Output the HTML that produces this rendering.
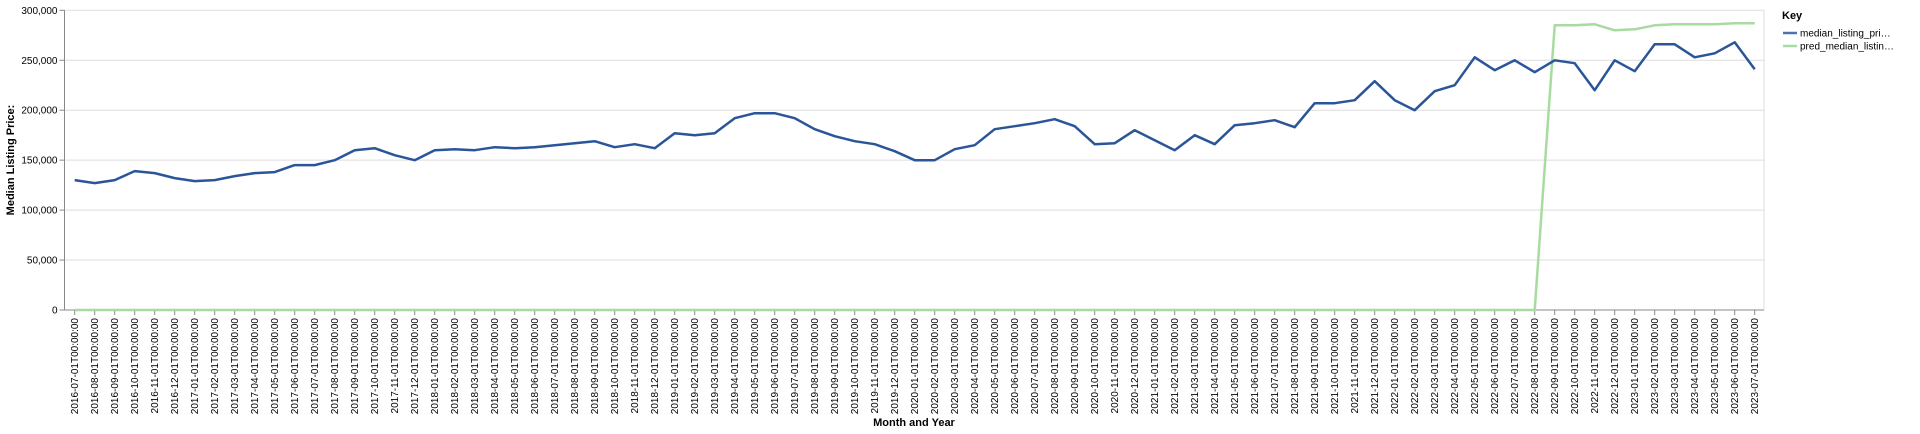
<!DOCTYPE html>
<html><head><meta charset="utf-8"><style>
html,body{margin:0;padding:0;background:#fff;width:1920px;height:434px;overflow:hidden}
svg{display:block;font-family:"Liberation Sans",sans-serif}
</style></head><body>
<svg id="chart" width="1920" height="434" xmlns="http://www.w3.org/2000/svg">
<g id="grid"></g>
<g id="yaxis"></g>
<g id="xaxis"></g>
<g id="series"></g>
<text transform="translate(14,160) rotate(-90)" text-anchor="middle" font-size="11" font-weight="bold" fill="#000">Median Listing Price:</text>
<text x="914" y="426" text-anchor="middle" font-size="11" font-weight="bold" fill="#000">Month and Year</text>
<g>
<text x="1782" y="19" font-size="11" font-weight="bold" fill="#000">Key</text>
<g><line x1="1783" y1="33" x2="1797" y2="33" stroke="#4c72b0" stroke-width="2.5"/><text x="1800" y="36.5" font-size="10" fill="#000">median_listing_pri…</text></g>
<g><line x1="1783" y1="46" x2="1797" y2="46" stroke="#a8dba0" stroke-width="2.5"/><text x="1800" y="49.5" font-size="10" fill="#000">pred_median_listin…</text></g>
</g>
</svg>
<script>
const startYear = 2016, startMonth = 7, monthCount = 85;
const yTicks = [0,50000,100000,150000,200000,250000,300000];
const medianValues = [130,127,130,139,137,132,129,130,134,137,138,145,145,150,160,162,155,150,160,161,160,163,162,163,165,167,169,163,166,
162,177,175,177,192,197,197,192,181,174,169,166,159,150,150,161,165,181,184,187,191,184,166,167,180,170,160,175,166,185,187,190,
183,207,207,210,229,210,200,219,225,253,240,250,238,250,247,220,250,239,266,266,253,257,268,241];
const predValues = [0,0,0,0,0,0,0,0,0,0,0,0,0,0,0,0,0,0,0,0,0,0,0,0,0,0,0,0,0,
0,0,0,0,0,0,0,0,0,0,0,0,0,0,0,0,0,0,0,0,0,0,0,0,0,0,0,0,0,0,0,0,
0,0,0,0,0,0,0,0,0,0,0,0,0,285,285,286,280,281,285,286,286,286,287,287];

const NS="http://www.w3.org/2000/svg";
const x0=74.7, step=20, yZero=310, yTop=10.3, yMax=300000, plotL=64.5, plotR=1764;
function xPos(i){return x0+i*step;}
function yPos(v){return yZero-(v/yMax)*(yZero-yTop);}
function mk(tag,attrs,parent){const e=document.createElementNS(NS,tag);for(const k in attrs)e.setAttribute(k,attrs[k]);parent.appendChild(e);return e;}
const grid=document.getElementById('grid'),ya=document.getElementById('yaxis'),xa=document.getElementById('xaxis'),se=document.getElementById('series');
mk('line',{x1:plotR,y1:yTop,x2:plotR,y2:yZero,stroke:'#ddd','stroke-width':1},grid);
yTicks.forEach(t=>{
  const y=yPos(t);
  const g=mk('line',{x1:plotL,y1:y,x2:plotR,y2:y,stroke:'#ddd','stroke-width':1},grid);
  
  
  mk('line',{x1:plotL-5,y1:y,x2:plotL,y2:y,stroke:'#888'},ya);
  const tx=mk('text',{x:plotL-7,y:y+3.5,'text-anchor':'end','font-size':10,fill:'#000'},ya);
  tx.textContent=t.toLocaleString('en-US');
  
  
});
mk('line',{x1:plotL,y1:yTop,x2:plotL,y2:yZero,stroke:'#888'},ya);
mk('line',{x1:plotL,y1:yZero,x2:plotR,y2:yZero,stroke:'#888'},xa);
for(let i=0;i<monthCount;i++){
  const m=(startMonth-1+i)%12+1, yr=startYear+Math.floor((startMonth-1+i)/12);
  const lab=yr+'-'+String(m).padStart(2,'0')+'-01T00:00:00';
  const x=xPos(i);
  mk('line',{x1:x,y1:yZero,x2:x,y2:yZero+5,stroke:'#888'},xa);
  const t=mk('text',{transform:`translate(${x+3.5},318) rotate(-90)`,'text-anchor':'end','font-size':10,fill:'#000'},xa);
  t.textContent=lab;
  
  
}
function line(vals,color,name){
  const d=vals.map((v,i)=>(i?'L':'M')+xPos(i).toFixed(1)+','+yPos(v*1000).toFixed(1)).join('');
  const p=mk('path',{d:d,fill:'none',stroke:color,'stroke-width':2.5,'stroke-linejoin':'round'},se);
  
  
}
line(predValues,'#a8dba0','pred-median-line');
line(medianValues,'#2a5599','median-listing-price-line');
</script>
</body></html>
